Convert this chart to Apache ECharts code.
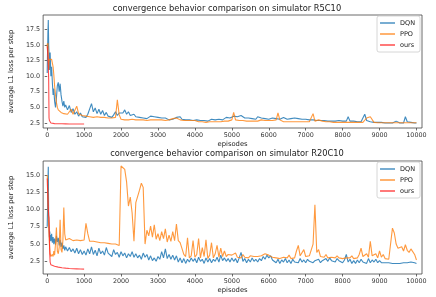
<!DOCTYPE html>
<html><head><meta charset="utf-8">
<script src="https://cdn.jsdelivr.net/npm/echarts@6/dist/echarts.min.js"></script>
<style>html,body{margin:0;padding:0;background:#fff}#c{width:436px;height:297px}</style>
</head><body><div id="c"></div>
<script>
const titles = ['convergence behavior comparison on simulator R5C10', 'convergence behavior comparison on simulator R20C10'];
const seriesNames = ['DQN', 'PPO', 'ours'];
const xTicks = [0,1000,2000,3000,4000,5000,6000,7000,8000,9000,10000];
const yTicksTop = [2.5,5,7.5,10,12.5,15,17.5];
const yTicksBottom = [2.5,5,7.5,10,12.5,15];

const episodes = [0,10,20,30,40,50,60,70,80,90,100,120,140,160,180,200,225,250,275,300,325,350,375,400,425,450,475,
 500,550,600,650,700,750,800,850,900,950,
 1000,1050,1100,1150,1200,1250,1300,1350,1400,1450,1500,1550,1600,1650,1700,1750,1800,1850,1900,1950,
 2000,2050,2100,2150,2200,2250,2300,2350,2400,2450,2500,2550,2600,2650,2700,2750,2800,2850,2900,2950,
 3000,3050,3100,3150,3200,3250,3300,3350,3400,3450,3500,3550,3600,3650,3700,3750,3800,3850,3900,3950,
 4000,4050,4100,4150,4200,4250,4300,4350,4400,4450,4500,4550,4600,4650,4700,4750,4800,4850,4900,4950,
 5000,5050,5100,5150,5200,5250,5300,5350,5400,5450,5500,5550,5600,5650,5700,5750,5800,5850,5900,5950,
 6000,6050,6100,6150,6200,6250,6300,6350,6400,6450,6500,6550,6600,6650,6700,6750,6800,6850,6900,6950,
 7000,7050,7100,7150,7200,7250,7300,7350,7400,7450,7500,7550,7600,7650,7700,7750,7800,7850,7900,7950,
 8000,8050,8100,8150,8200,8250,8300,8350,8400,8450,8500,8550,8600,8650,8700,8750,8800,8850,8900,8950,
 9000,9050,9100,9150,9200,9250,9300,9350,9400,9450,9500,9550,9600,9650,9700,9750,9800,9850,9900,9950,
 10000];

const r5DQN = [10.5,14,17,19,15,13.5,11,12.5,13.8,12,10,11.5,9,7,8,6,5,6.5,8.5,9,7.5,8.8,7,6,5.2,6,5,
 5.4,4.6,5.3,4.2,4.8,3.9,4.3,3.6,4.1,3.5,
 3.8,3.4,3.9,3.6,5.6,4.3,4.9,4.0,4.7,3.9,4.5,3.7,4.2,3.6,3.9,3.4,3.8,4.3,3.7,4.1,
 4.4,4.1,4.6,3.9,4.3,3.7,3.6,3.9,3.5,3.7,3.4,3.6,3.3,3.5,3.2,3.4,3.6,3.3,3.5,3.2,
 3.4,3.2,3.3,3.1,3.3,3.2,3.0,3.2,3.1,3.3,3.4,3.2,3.5,3.1,3.3,3.0,3.2,3.0,3.1,2.9,
 3.1,3.0,3.2,2.9,3.1,2.9,3.0,2.8,3.0,3.1,2.9,3.0,3.2,3.1,3.3,3.0,3.2,3.4,3.1,3.3,
 3.0,3.6,3.3,3.5,3.2,3.7,3.4,3.3,3.5,3.3,3.4,3.2,3.3,3.1,3.5,3.2,3.3,3.1,3.2,3.3,
 3.1,3.2,3.3,3.1,3.2,3.0,3.1,3.0,3.4,3.2,3.1,3.0,3.2,3.5,3.3,3.4,3.2,3.3,3.1,3.0,
 3.1,2.9,3.0,2.9,3.0,2.8,2.9,2.8,2.9,2.8,2.9,2.7,2.8,2.7,2.8,2.9,2.8,2.7,2.9,2.7,
 2.8,2.7,2.8,3.5,2.8,2.7,2.8,2.7,2.7,2.8,2.7,2.7,3.9,2.9,2.8,2.7,2.7,2.6,2.6,2.6,
 2.6,2.6,2.5,2.5,2.5,2.5,2.5,2.5,2.6,2.8,2.6,2.5,2.5,2.5,3.5,2.7,2.7,2.6,2.5,2.5,
 2.5];

const r5PPO = [15.2,14.5,15.3,13,11,12.3,12.7,12.9,12.6,12.8,12.5,12.7,12.4,11.5,10.2,8.5,7,5.8,5,4.6,4.4,4.3,4.2,4.1,4,4,3.9,
 3.9,3.9,3.8,4.7,3.9,3.8,5.2,4.0,3.8,3.7,
 3.7,3.6,3.6,3.5,3.5,3.4,3.4,3.5,3.4,3.4,3.3,3.4,3.3,3.3,3.4,3.3,3.3,3.4,6.2,3.8,
 3.1,3.0,3.0,2.9,3.0,3.0,3.1,3.0,3.0,3.1,3.0,2.9,3.0,3.0,2.9,3.0,3.0,2.9,3.0,3.1,
 3.0,2.9,3.0,3.0,2.9,3.0,3.0,3.1,3.2,3.3,3.3,3.1,3.0,3.0,2.9,3.0,2.9,3.0,2.9,2.8,
 2.9,2.8,2.7,2.7,2.7,2.7,2.6,2.7,2.7,2.6,2.7,2.7,2.7,2.8,2.7,2.8,2.8,2.9,2.8,2.9,
 3.0,4.2,3.0,2.8,2.9,2.8,2.9,2.8,2.8,2.8,2.8,2.8,2.8,2.8,2.8,2.9,3.0,2.9,2.9,2.8,
 2.9,2.8,2.9,2.8,3.0,4.1,3.0,2.7,2.7,2.7,2.7,2.7,2.7,2.7,2.7,2.7,2.7,2.7,2.7,2.7,
 2.7,2.7,2.7,2.7,4.0,2.8,2.8,3.0,3.2,2.8,2.7,2.7,2.7,2.7,2.6,2.6,2.6,2.6,2.6,2.6,
 2.6,2.6,2.6,2.6,2.6,2.6,2.6,2.6,2.6,2.6,2.6,2.6,2.6,3.3,3.0,3.5,3.2,2.6,2.55,2.55,
 2.55,2.55,2.55,2.55,2.55,2.55,2.55,2.55,2.55,2.55,2.55,2.55,2.55,2.55,2.55,2.55,2.55,2.55,2.55,2.55,
 2.55];

const r20DQN = [7.5,10,14,16.2,9,7.5,6.0,6.8,5.5,6.3,5.4,6.5,5.2,6.0,5.0,5.8,4.9,6.2,5.3,5.9,4.8,5.6,4.6,5.2,4.3,4.8,4.1,
 4.6,4.0,4.5,3.9,4.3,3.7,4.4,3.6,4.2,3.5,
 4.0,3.4,4.3,3.6,4.6,3.5,4.1,3.3,4.4,3.6,4.0,3.4,4.5,3.7,3.9,3.2,4.2,3.5,3.8,3.1,
 3.9,3.3,3.7,3.0,3.6,3.2,3.9,3.1,3.6,3.0,3.4,2.8,3.7,3.1,3.5,2.7,3.3,2.6,3.0,2.5,
 3.2,2.8,3.9,3.0,4.3,2.9,3.5,2.8,3.4,2.7,3.3,2.4,3.0,2.3,2.9,2.2,2.8,2.4,3.0,2.5,
 2.9,2.3,3.1,2.5,2.8,2.2,3.0,2.4,2.9,2.3,2.8,2.5,3.1,2.4,3.4,2.6,3.0,2.5,2.9,2.4,
 3.0,2.5,2.9,2.3,3.0,3.8,2.5,2.9,2.3,2.8,2.4,3.0,2.5,2.8,2.4,2.9,2.6,3.2,2.8,3.4,
 3.0,3.3,2.7,2.9,2.3,2.8,2.2,2.7,2.4,2.9,2.3,2.7,2.2,2.8,2.4,2.6,2.3,2.9,2.4,2.7,
 2.3,2.8,2.5,2.7,2.3,2.6,2.4,2.8,2.3,2.6,2.4,2.9,2.5,3.0,2.6,2.8,2.4,2.9,2.6,2.8,
 2.3,2.7,3.5,2.4,2.8,2.2,2.6,2.2,2.7,2.3,2.8,2.4,2.6,2.2,2.9,2.3,2.7,2.4,2.8,2.3,
 2.6,2.3,2.5,2.3,2.4,2.3,2.3,2.2,2.3,2.2,2.3,2.2,2.2,2.3,2.2,2.3,2.2,2.4,2.2,2.3,
 2.2];

const r20PPO = [15.0,14.2,12,9,7.5,6.5,5.0,4.2,3.6,3.4,3.2,3.0,3.5,3.2,4.0,3.4,5.0,7.4,4.0,3.6,4.5,8.5,4.2,3.8,5.5,10.3,6.5,
 5.6,5.5,5.8,5.6,5.5,5.5,5.6,5.5,5.5,5.5,
 5.6,8.0,6.5,5.4,5.5,5.4,5.4,5.3,5.3,5.2,5.3,5.2,5.3,5.1,5.0,5.0,4.9,5.0,4.8,4.8,
 16.3,16.2,15.8,14.0,10.5,11.8,9.5,5.4,11.0,10.8,12.8,13.8,13.2,5.0,7.0,6.2,7.6,6.0,7.8,5.7,
 6.5,5.5,6.8,5.8,7.2,5.3,6.3,5.4,6.8,5.5,7.9,5.5,5.2,5.4,3.5,3.2,5.9,3.0,3.3,5.5,
 3.1,3.5,5.8,3.0,4.5,3.2,5.6,2.9,3.4,5.2,3.0,3.6,4.8,3.1,4.4,3.2,4.0,3.2,3.5,3.3,
 3.4,3.2,3.7,3.1,3.3,3.0,3.5,3.1,3.2,3.0,3.3,3.1,3.2,3.0,3.2,3.1,3.3,3.4,3.6,3.5,
 3.4,3.3,3.1,3.2,3.0,3.1,2.9,3.0,3.1,2.9,3.0,3.4,2.9,3.1,3.0,4.0,4.8,3.3,3.1,4.2,
 3.2,3.0,3.3,3.1,5.0,10.7,3.8,4.2,3.2,3.0,3.1,3.5,3.0,2.9,3.1,2.9,3.0,3.3,3.0,2.8,
 2.9,2.8,3.0,2.8,3.0,3.3,2.9,2.8,3.0,3.5,4.4,3.2,3.0,3.6,3.1,5.4,3.3,3.1,3.6,3.0,
 4.0,3.1,3.5,2.9,3.0,2.8,2.9,7.3,6.6,5.0,4.4,4.2,4.6,4.0,4.9,4.1,3.8,4.3,4.2,3.5,
 2.7];

const oursEpisodes = [0,10,20,30,40,50,60,70,80,90,100,125,150,200,300,400,500,600,700,800,900,1000];
const r5Ours = [14.8,14.6,13.2,11.5,9.5,3.3,2.9,2.7,2.6,2.55,2.5,2.45,2.42,2.4,2.38,2.37,2.36,2.35,2.35,2.34,2.34,2.33];
const r20Ours = [14.5,13.0,11.5,10.2,9.2,8.8,6.0,3.5,2.4,2.15,2.0,1.92,1.86,1.78,1.67,1.58,1.52,1.47,1.43,1.41,1.39,1.37];

const zip = (xs, ys) => xs.map((x, i) => [x, ys[i]]);
const colors = ['#1f77b4', '#ff7f0e', '#ff2020'];
const FONT = 'DejaVu Sans';

const grids = [
  {left: 32, top: 15, width: 390, height: 113},
  {left: 32, top: 161, width: 390, height: 113}
];
const yRanges = [[1.7, 19.8], [0.67, 17.02]];
const yTicks = [yTicksTop, yTicksBottom];
const data = [[r5DQN, r5PPO, r5Ours], [r20DQN, r20PPO, r20Ours]];

const option = {
  animation: false,
  backgroundColor: '#fff',
  textStyle: {fontFamily: FONT},
  title: titles.map((t, i) => ({
    text: t, left: 227, textAlign: 'center', top: i === 0 ? 5 : 150, padding: 0,
    textStyle: {fontFamily: FONT, fontSize: 8.3, fontWeight: 'normal', color: '#222'}
  })),
  legend: [0, 1].map(i => ({
    data: seriesNames, orient: 'vertical', right: 16, top: i === 0 ? 16 : 162,
    icon: 'rect', itemWidth: 15, itemHeight: 1.5, itemGap: 3,
    padding: [3, 5, 3, 3], backgroundColor: 'rgba(255,255,255,0.85)',
    borderColor: '#cccccc', borderWidth: 0.8, borderRadius: 2,
    textStyle: {fontFamily: FONT, fontSize: 6.5, color: '#222', lineHeight: 8},
    selectedMode: false
  })),
  grid: grids.map(g => Object.assign({show: true, borderColor: '#444', borderWidth: 0.8, backgroundColor: '#fff'}, g)),
  xAxis: [0, 1].map(i => ({
    type: 'value', gridIndex: i, min: -110, max: 10150,
    name: 'episodes', nameLocation: 'middle', nameGap: 12.5,
    nameTextStyle: {fontFamily: FONT, fontSize: 6.8, color: '#222'},
    axisLine: {show: false},
    axisTick: {show: true, length: 2.5, customValues: xTicks, lineStyle: {color: '#444', width: 0.8}},
    axisLabel: {customValues: xTicks, formatter: v => String(v), fontSize: 6.4, color: '#333', margin: 4, fontFamily: FONT},
    splitLine: {show: false}
  })),
  yAxis: [0, 1].map(i => ({
    type: 'value', gridIndex: i, min: yRanges[i][0], max: yRanges[i][1],
    name: 'average L1 loss per step', nameLocation: 'middle', nameGap: 19.5,
    nameTextStyle: {fontFamily: FONT, fontSize: 6.8, color: '#222'},
    axisLine: {show: false},
    axisTick: {show: true, length: 2.5, customValues: yTicks[i], lineStyle: {color: '#444', width: 0.8}},
    axisLabel: {customValues: yTicks[i], formatter: v => v.toFixed(1), fontSize: 6.4, color: '#333', margin: 3, fontFamily: FONT},
    splitLine: {show: false}
  })),
  series: []
};

[0, 1].forEach(i => {
  const xsList = [episodes, episodes, oursEpisodes];
  seriesNames.forEach((n, k) => {
    option.series.push({
      name: n, type: 'line', xAxisIndex: i, yAxisIndex: i,
      data: zip(xsList[k], data[i][k]),
      showSymbol: false, symbol: 'none', sampling: null,
      color: colors[k],
      lineStyle: {width: 1.1, color: colors[k], opacity: k === 0 ? 0.85 : 0.8},
      itemStyle: {color: colors[k], opacity: 0.8},
      z: 2 + k
    });
  });
});

const chart = echarts.init(document.getElementById('c'), null, {renderer: 'canvas'});
chart.setOption(option);
</script>
</body></html>
